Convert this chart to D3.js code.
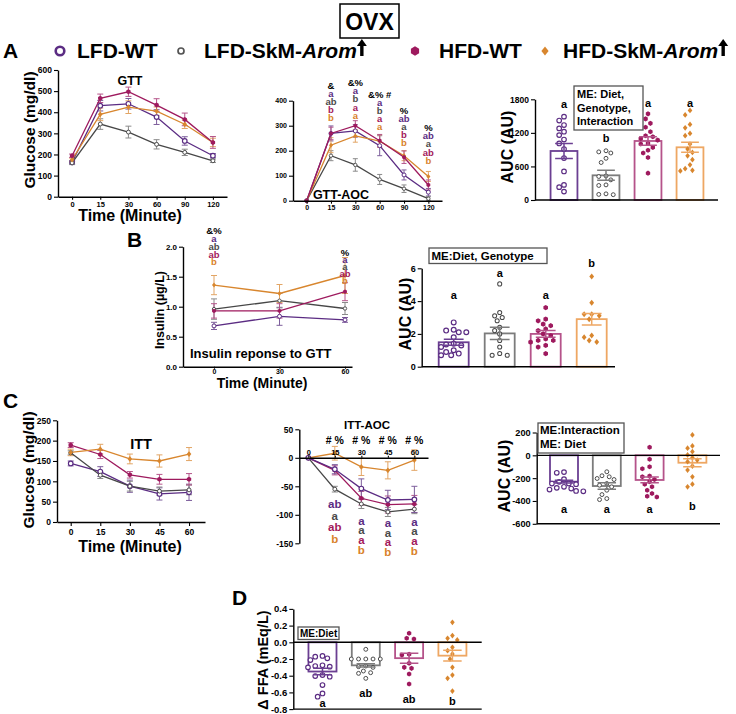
<!DOCTYPE html>
<html><head><meta charset="utf-8">
<script src="https://cdn.jsdelivr.net/npm/d3@7"></script>
<style>body{margin:0;background:#fff}svg{display:block}</style>
</head><body><svg id="c" width="736" height="714"></svg>
<script>
// ---------------- DATA ----------------
const groupKeys = ["lw","ls","hw","hs"];
const groupNames = ["LFD-WT","LFD-SkM-Arom","HFD-WT","HFD-SkM-Arom"];

// GTT (mg/dl)
const gttTimes = [0,15,30,60,90,120];
const gttLfdWt  = [163,431,440,377,264,194];
const gttLfdSkm = [160,344,306,248,210,170];
const gttHfdWt  = [194,466,497,434,366,257];
const gttHfdSkm = [175,390,424,405,343,257];
const gttSemLfdWt  = [8,25,25,35,20,10];
const gttSemLfdSkm = [8,25,28,22,15,8];
const gttSemHfdWt  = [8,20,22,30,30,28];
const gttSemHfdSkm = [8,30,30,20,20,20];
const gttTicks = [0,100,200,300,400,500,600];

// GTT-AOC
const aocLfdWt  = [0,269,279,220,103,34];
const aocLfdSkm = [0,180,143,85,48,8];
const aocHfdWt  = [0,269,300,240,174,63];
const aocHfdSkm = [0,222,259,238,180,97];
const aocSemLfdWt  = [0,30,25,40,20,15];
const aocSemLfdSkm = [0,20,25,20,15,8];
const aocSemHfdWt  = [0,25,20,25,25,20];
const aocSemHfdSkm = [0,30,25,25,20,20];
const aocTicks = [0,100,200,300,400];
const gttAocSym   = ["","&","&%","&% #","%","%"];
const gttAocLetLw = ["","a","a","a","ab","ab"];
const gttAocLetLs = ["","ab","b","b","a","a"];
const gttAocLetHw = ["","b","a","a","b","ab"];
const gttAocLetHs = ["","b","a","a","b","b"];

// GTT AUC
const aucGttMean = [876,441,1055,942];
const aucGttSem  = [135,90,75,90];
const aucGttLfdWt  = [1490,1420,1340,1280,1220,1160,1080,1010,910,750,510,270,230,150];
const aucGttLfdSkm = [880,860,840,745,670,430,420,360,270,260,110,100,95];
const aucGttHfdWt  = [1540,1450,1370,1300,1220,1150,1130,1100,1070,1010,1000,940,890,840,760,480];
const aucGttHfdSkm = [1600,1520,1350,1290,1190,1150,1000,910,850,790,720,630,560,530,520];
const aucGttLet = ["a","b","a","a"];
const aucGttTicks = [0,600,1200,1800];
const aucGttBox = ["ME: Diet,","Genotype,","Interaction"];

// Insulin
const insTimes = [0,30,60];
const insLfdWt  = [0.68,0.84,0.78];
const insLfdSkm = [0.96,1.10,0.97];
const insHfdWt  = [0.93,0.93,1.25];
const insHfdSkm = [1.36,1.22,1.52];
const insSemLfdWt  = [0.06,0.15,0.04];
const insSemLfdSkm = [0.17,0.12,0.10];
const insSemHfdWt  = [0.12,0.12,0.15];
const insSemHfdSkm = [0.16,0.15,0.30];
const insTicks = [0,0.5,1,1.5,2];
const insSym   = ["&%","","%"];
const insLetLw = ["a","","a"];
const insLetLs = ["ab","","a"];
const insLetHw = ["ab","","ab"];
const insLetHs = ["b","","b"];

// Insulin AUC
const insAucMean = [1.49,2.03,2.0,2.9];
const insAucSem  = [0.18,0.37,0.2,0.35];
const insAucLfdWt  = [2.7,2.25,2.2,2.1,2.1,1.8,1.4,1.35,1.3,1.2,1.0,0.9,0.8,0.7,0.7];
const insAucLfdSkm = [5.05,3.3,3.1,3.0,2.8,2.4,2.2,2.0,1.6,1.2,0.8,0.7,0.7];
const insAucHfdWt  = [3.6,2.9,2.8,2.6,2.5,2.3,2.2,2.0,1.9,1.7,1.6,1.6,1.5,1.3,1.2,0.8];
const insAucHfdSkm = [5.5,3.9,3.2,3.2,3.1,2.9,1.9,1.8,1.6,1.5];
const insAucLet = ["a","a","a","b"];
const insAucTicks = [0,2,4,6];
const insAucBox = ["ME:Diet, Genotype"];

// ITT (mg/dl)
const ittTimes = [0,15,30,45,60];
const ittLfdWt  = [144,124,88,69,73];
const ittLfdSkm = [170,115,88,76,79];
const ittHfdWt  = [189,166,116,105,105];
const ittHfdSkm = [171,179,155,150,167];
const ittSemLfdWt  = [6,12,15,15,20];
const ittSemLfdSkm = [5,8,12,10,12];
const ittSemHfdWt  = [6,10,8,12,14];
const ittSemHfdSkm = [8,12,12,15,16];
const ittTicks = [0,50,100,150,200,250];

// ITT-AOC
const itaLfdWt  = [0,-20,-54,-74,-73];
const itaLfdSkm = [0,-55,-81,-95,-90];
const itaHfdWt  = [0,-22,-71,-82,-81];
const itaHfdSkm = [0,8,-16,-22,-4];
const itaSemLfdWt  = [0,8,17,17,23];
const itaSemLfdSkm = [0,5,8,8,8];
const itaSemHfdWt  = [0,8,12,15,15];
const itaSemHfdSkm = [0,12,15,15,18];
const itaTicks = [50,0,-50,-100,-150];
const ittAocSym   = ["","# %","# %","# %","# %"];
const ittAocLetLw = ["","ab","a","a","a"];
const ittAocLetLs = ["","a","a","a","a"];
const ittAocLetHw = ["","ab","a","a","a"];
const ittAocLetHs = ["","b","b","b","b"];

// ITT AUC
const ittAucMean = [-231,-269,-216,-65];
const ittAucSem  = [12,28,25,35];
const ittAucLfdWt  = [-153,-147,-209,-232,-247,-253,-247,-276,-285,-291,-300,-312,-315];
const ittAucLfdSkm = [-144,-179,-188,-203,-212,-247,-262,-276,-306,-344,-379,-388];
const ittAucHfdWt  = [70,-35,-100,-118,-182,-188,-212,-232,-253,-276,-306,-335,-359,-365];
const ittAucHfdSkm = [179,82,62,32,3,-21,-41,-56,-94,-129,-188,-253,-276];
const ittAucLet = ["a","a","a","b"];
const ittAucTicks = [200,0,-200,-400,-600];
const ittAucBox = ["ME:Interaction","ME: Diet"];

// Delta FFA
const ffaMean = [-0.35,-0.276,-0.19,-0.16];
const ffaSem  = [0.04,0.02,0.06,0.065];
const ffaLfdWt  = [-0.164,-0.172,-0.192,-0.212,-0.276,-0.284,-0.292,-0.3,-0.392,-0.404,-0.412,-0.512,-0.612,-0.652];
const ffaLfdSkm = [-0.084,-0.2,-0.2,-0.2,-0.2,-0.2,-0.284,-0.292,-0.3,-0.344,-0.364,-0.372,-0.432];
const ffaHfdWt  = [0.108,0.048,0.04,-0.144,-0.152,-0.252,-0.3,-0.312,-0.38,-0.5];
const ffaHfdSkm = [0.24,0.08,0.048,0.028,-0.06,-0.1,-0.14,-0.2,-0.3,-0.392,-0.432,-0.584];
const ffaLet = ["a","ab","ab","b"];
const ffaTicks = [0.4,0.2,0,-0.2,-0.4,-0.6,-0.8];
const ffaBox = ["ME:Diet"];

// ---------------- STYLE ----------------
const F = '"Liberation Sans", Arial, Helvetica, sans-serif';
const lineColor  = {lw:"#5b2c83", ls:"#474747", hw:"#9e1a5e", hs:"#d8862e"};
const errColor   = {lw:"#7d5e9c", ls:"#8a8a8a", hw:"#b5558a", hs:"#e2a565"};
const barStroke  = {lw:"#6b3f92", ls:"#7c7c7c", hw:"#b5538a", hs:"#eea763"};
const letterColor= {lw:"#5b2c83", ls:"#4a4a4a", hw:"#a3195b", hs:"#d9822b"};

const svg = d3.select("#c").attr("font-family", F);

function txt(x,y,s,fs,opt={}){
  const t = svg.append("text").attr("x",x).attr("y",y).attr("font-size",fs)
    .attr("font-weight","bold").attr("fill",opt.fill||"#000")
    .attr("text-anchor",opt.anchor||"start").text(s);
  if(opt.rot) t.attr("transform",`rotate(-90,${x},${y})`);
  return t;
}
function axisStyle(g,fs){
  g.attr("font-family",F).attr("font-size",fs);
  g.select(".domain").attr("stroke","#000").attr("stroke-width",1.4);
  g.selectAll(".tick line").attr("stroke","#000").attr("stroke-width",1.1);
  g.selectAll(".tick text").attr("font-weight","bold").attr("fill","#000");
}
function yAxis(x,y,ticks,fmt,fs){
  const g = svg.append("g").attr("transform",`translate(${x},0)`)
    .call(d3.axisLeft(y).tickValues(ticks).tickFormat(fmt).tickSize(4).tickSizeOuter(0).tickPadding(2));
  axisStyle(g,fs); return g;
}
function xAxis(y,x,ticks,fs,top,ts,tp){
  const ax = (top?d3.axisTop(x):d3.axisBottom(x)).tickSize(ts).tickSizeOuter(0).tickPadding(tp);
  if(ticks) ax.tickValues(ticks);
  const g = svg.append("g").attr("transform",`translate(0,${y})`).call(ax);
  axisStyle(g,fs); return g;
}
function hline(x0,x1,y){
  svg.append("line").attr("x1",x0).attr("x2",x1).attr("y1",y).attr("y2",y).attr("stroke","#000").attr("stroke-width",1.4);
}
function marker(g,key,x,y,r){
  const col=lineColor[key];
  if(key==="lw") g.append("circle").attr("cx",x).attr("cy",y).attr("r",r).attr("fill","#fff").attr("stroke",col).attr("stroke-width",Math.max(1,r*0.5));
  else if(key==="ls") g.append("circle").attr("cx",x).attr("cy",y).attr("r",r*0.85).attr("fill","#fff").attr("stroke",col).attr("stroke-width",Math.max(0.9,r*0.42));
  else if(key==="hw"){
    const pts=d3.range(6).map(k=>{const a=Math.PI/3*k+Math.PI/6;return [x+r*1.1*Math.cos(a),y+r*1.1*Math.sin(a)];});
    g.append("polygon").attr("points",pts.join(" ")).attr("fill",col);
  } else {
    g.append("polygon").attr("points",[[x,y-r*1.25],[x+r,y],[x,y+r*1.25],[x-r,y]].join(" ")).attr("fill",col);
  }
}
function errBar(g,cx,y1,y2,cap,col,sw){
  g.append("path").attr("d",`M${cx},${y1}V${y2}M${cx-cap},${y1}h${2*cap}M${cx-cap},${y2}h${2*cap}`)
   .attr("stroke",col).attr("stroke-width",sw).attr("fill","none");
}
function linePanel(o){
  const g=svg.append("g");
  o.series.forEach(s=>{
    o.times.forEach((t,i)=>{
      const se=s.sem[i]; if(!se) return;
      errBar(g,o.x(t),o.y(s.vals[i]+se),o.y(s.vals[i]-se),o.cap,errColor[s.key],1);
    });
  });
  o.series.forEach(s=>{
    g.append("path").datum(s.vals).attr("d",d3.line().x((d,i)=>o.x(o.times[i])).y(d=>o.y(d)))
     .attr("stroke",lineColor[s.key]).attr("stroke-width",1.3).attr("fill","none");
  });
  o.series.forEach(s=>o.times.forEach((t,i)=>marker(g,s.key,o.x(t),o.y(s.vals[i]),o.r)));
}
function swarm(vals,y,cx,r){
  const placed=[], d=2*r+0.7, s=r*1.05;
  const idx=vals.map((v,i)=>i).sort((a,b)=>vals[b]-vals[a]);
  idx.forEach(i=>{
    const py=y(vals[i]); let px=cx;
    for(let j=0;j<20;j++){
      const off = j===0?0:(j%2? -1:1)*Math.ceil(j/2)*s;
      px=cx+off;
      if(placed.every(p=>Math.hypot(p.x-px,p.y-py)>=d)) break;
    }
    placed.push({x:px,y:py});
  });
  return placed;
}
function barPanel(o){
  const g=svg.append("g"), w=o.band.bandwidth();
  groupKeys.forEach((k,i)=>{
    const x=o.band(k), y0=o.y(0), ym=o.y(o.means[i]);
    g.append("rect").attr("x",x).attr("y",Math.min(y0,ym)).attr("width",w).attr("height",Math.abs(ym-y0))
     .attr("fill","#fff").attr("stroke",barStroke[k]).attr("stroke-width",1.8);
  });
  groupKeys.forEach((k,i)=>{
    const cx=o.band(k)+w/2;
    swarm(o.pts[i],o.y,cx,o.pr).forEach(p=>marker(g,k,p.x,p.y,o.pr));
  });
  groupKeys.forEach((k,i)=>{
    const cx=o.band(k)+w/2;
    errBar(g,cx,o.y(o.means[i]+o.sems[i]),o.y(o.means[i]-o.sems[i]),w*0.33,barStroke[k],1.5);
  });
  groupKeys.forEach((k,i)=>txt(o.band(k)+w/2,o.letY[i],o.letters[i],o.letFs,{anchor:"middle"}));
}
function box(x,y,w,h,lines,fs,lh,tx,ty){
  svg.append("rect").attr("x",x).attr("y",y).attr("width",w).attr("height",h)
    .attr("fill","#fff").attr("stroke","#555").attr("stroke-width",1.3);
  lines.forEach((l,i)=>txt(tx,ty+i*lh,l,fs));
}
function stack(x,y0,step,items,fs){
  items.forEach((it,i)=>{ if(it.t) txt(x,y0+i*step,it.t,fs,{anchor:"middle",fill:it.c}); });
}
function upArrow(x,yb,h,w,sw){
  svg.append("path").attr("d",`M${x},${yb}V${yb-h+w*0.6}`).attr("stroke","#000").attr("stroke-width",sw);
  svg.append("polygon").attr("points",[[x-w/2,yb-h+w*0.7],[x,yb-h],[x+w/2,yb-h+w*0.7]].join(" ")).attr("fill","#000");
}

// ---------------- TITLE & LEGEND ----------------
svg.append("rect").attr("x",340).attr("y",4).attr("width",59).attr("height",34).attr("fill","#fff").attr("stroke","#000").attr("stroke-width",1.5);
txt(369.5,30,"OVX",23,{anchor:"middle"});
txt(3,58,"A",21);
const legMx=[60,181,415,545], legTx=[77,204,439,563], legY=58, legC=51;
const legG=svg.append("g");
groupKeys.forEach((k,i)=>{
  if(k==="lw") legG.append("circle").attr("cx",legMx[i]).attr("cy",legC).attr("r",4.3).attr("fill","#fff").attr("stroke",lineColor.lw).attr("stroke-width",2.6);
  else if(k==="ls") legG.append("circle").attr("cx",legMx[i]).attr("cy",legC).attr("r",3).attr("fill","#fff").attr("stroke","#555").attr("stroke-width",1.7);
  else marker(legG,k,legMx[i],legC,k==="hw"?4.3:3.6);
  const name=groupNames[i];
  const t=svg.append("text").attr("x",legTx[i]).attr("y",legY).attr("font-size",21).attr("font-weight","bold");
  if(name.endsWith("-Arom")){
    t.append("tspan").text(name.slice(0,-4));
    t.append("tspan").attr("font-style","italic").text("Arom");
    const L=t.node().getComputedTextLength();
    upArrow(legTx[i]+L+5,legY-2,17,10,3.4);
  } else t.text(name);
});

// ---------------- PANEL A: GTT ----------------
const xGtt=d3.scalePoint().domain(gttTimes).range([58,227]).padding(0.5);
const yGtt=d3.scaleLinear().domain([0,600]).range([196.7,70]);
linePanel({x:xGtt,y:yGtt,times:gttTimes,r:2.3,cap:3,series:[
  {key:"lw",vals:gttLfdWt,sem:gttSemLfdWt},{key:"ls",vals:gttLfdSkm,sem:gttSemLfdSkm},
  {key:"hs",vals:gttHfdSkm,sem:gttSemHfdSkm},{key:"hw",vals:gttHfdWt,sem:gttSemHfdWt}]});
yAxis(58,yGtt,gttTicks,d=>d,8.5);
xAxis(196.7,xGtt,null,7.5,false,3,1.5);
txt(130,85,"GTT",12.5,{anchor:"middle"});
txt(130,221,"Time (Minute)",16,{anchor:"middle"});
txt(35,130,"Glucose (mg/dl)",15.5,{anchor:"middle",rot:true});

// ---------------- PANEL A: GTT-AOC ----------------
const xAoc=d3.scalePoint().domain(gttTimes).range([293,442]).padding(0.56);
const yAoc=d3.scaleLinear().domain([0,400]).range([200.7,100.7]);
linePanel({x:xAoc,y:yAoc,times:gttTimes,r:2,cap:2.5,series:[
  {key:"lw",vals:aocLfdWt,sem:aocSemLfdWt},{key:"ls",vals:aocLfdSkm,sem:aocSemLfdSkm},
  {key:"hs",vals:aocHfdSkm,sem:aocSemHfdSkm},{key:"hw",vals:aocHfdWt,sem:aocSemHfdWt}]});
yAxis(293,yAoc,aocTicks,d=>d,7);
xAxis(200.7,xAoc,null,7,false,3,1.5);
txt(341,199,"GTT-AOC",12.5,{anchor:"middle"});
const aocSymY=[0,88.5,86,97.5,113.5,131];
gttTimes.forEach((t,i)=>{
  if(!gttAocSym[i]) return;
  stack(xAoc(t),aocSymY[i],8.2,[{t:gttAocSym[i],c:"#000"},{t:gttAocLetLw[i],c:letterColor.lw},
    {t:gttAocLetLs[i],c:letterColor.ls},{t:gttAocLetHw[i],c:letterColor.hw},{t:gttAocLetHs[i],c:letterColor.hs}],9.5);
});

// ---------------- PANEL A: AUC ----------------
const bandA=d3.scaleBand().domain(groupKeys).range([543,711]).paddingInner(0.36).paddingOuter(0.18);
const yAucA=d3.scaleLinear().domain([0,1800]).range([200,99.3]);
barPanel({band:bandA,y:yAucA,means:aucGttMean,sems:aucGttSem,pr:2.3,
  pts:[aucGttLfdWt,aucGttLfdSkm,aucGttHfdWt,aucGttHfdSkm],letters:aucGttLet,letY:[108,141.7,107,107],letFs:11});
yAxis(535,yAucA,aucGttTicks,d=>d,8.5);
hline(535,718,200);
txt(513,147,"AUC (AU)",16,{anchor:"middle",rot:true});
box(574,86,69,44,aucGttBox,11,13.5,577,98);

// ---------------- PANEL B: Insulin ----------------
txt(127,247,"B",21);
const xIns=d3.scaleLinear().domain([-14.2,63.2]).range([183,352]);
const yIns=d3.scaleLinear().domain([0,2]).range([366.7,246.7]);
linePanel({x:xIns,y:yIns,times:insTimes,r:2,cap:3,series:[
  {key:"lw",vals:insLfdWt,sem:insSemLfdWt},{key:"ls",vals:insLfdSkm,sem:insSemLfdSkm},
  {key:"hw",vals:insHfdWt,sem:insSemHfdWt},{key:"hs",vals:insHfdSkm,sem:insSemHfdSkm}]});
yAxis(183,yIns,insTicks,d=>d.toFixed(1),8);
xAxis(366.7,xIns,insTimes,7,false,2,0.5);
txt(190,358,"Insulin reponse to GTT",13);
txt(262,388,"Time (Minute)",14,{anchor:"middle"});
txt(164,310,"Insulin (\u00b5g/L)",12.5,{anchor:"middle",rot:true});
const insY=[234.2,255.5], insStep=[7.8,7.1];
[0,2].forEach((i,j)=>{
  stack(xIns(insTimes[i]),insY[j],insStep[j],[{t:insSym[i],c:"#000"},{t:insLetLw[i],c:letterColor.lw},
    {t:insLetLs[i],c:letterColor.ls},{t:insLetHw[i],c:letterColor.hw},{t:insLetHs[i],c:letterColor.hs}],9.5);
});

// ---------------- PANEL B: AUC ----------------
const bandB=d3.scaleBand().domain(groupKeys).range([430.7,614.7]).paddingInner(0.348).paddingOuter(0.174);
const yAucB=d3.scaleLinear().domain([0,6]).range([366.7,268.3]);
barPanel({band:bandB,y:yAucB,means:insAucMean,sems:insAucSem,pr:2.4,
  pts:[insAucLfdWt,insAucLfdSkm,insAucHfdWt,insAucHfdSkm],letters:insAucLet,letY:[299,277,299,266.7],letFs:11});
yAxis(421.7,yAucB,insAucTicks,d=>d,9);
hline(421.7,615,366.7);
txt(411,314,"AUC (AU)",16,{anchor:"middle",rot:true});
box(429,248,118,15.5,insAucBox,11.5,0,431.5,260.2);

// ---------------- PANEL C: ITT ----------------
txt(3,408,"C",21);
const xItt=d3.scaleLinear().domain([-6.95,68.1]).range([57,205]);
const yItt=d3.scaleLinear().domain([0,250]).range([522,420.3]);
linePanel({x:xItt,y:yItt,times:ittTimes,r:2.3,cap:3,series:[
  {key:"lw",vals:ittLfdWt,sem:ittSemLfdWt},{key:"ls",vals:ittLfdSkm,sem:ittSemLfdSkm},
  {key:"hw",vals:ittHfdWt,sem:ittSemHfdWt},{key:"hs",vals:ittHfdSkm,sem:ittSemHfdSkm}]});
yAxis(57,yItt,ittTicks,d=>d,8.5);
xAxis(522,xItt,ittTimes,8.5,false,4,2.5);
txt(141,449,"ITT",14.5,{anchor:"middle"});
txt(130,552,"Time (Minute)",16,{anchor:"middle"});
txt(34,470,"Glucose (mg/dl)",15.5,{anchor:"middle",rot:true});

// ---------------- PANEL C: ITT-AOC ----------------
const xIta=d3.scaleLinear().domain([-5.09,67.7]).range([299.3,428]);
const yIta=d3.scaleLinear().domain([-150,50]).range([543.3,429.3]);
linePanel({x:xIta,y:yIta,times:ittTimes,r:2.3,cap:3,series:[
  {key:"hs",vals:itaHfdSkm,sem:itaSemHfdSkm},{key:"ls",vals:itaLfdSkm,sem:itaSemLfdSkm},
  {key:"hw",vals:itaHfdWt,sem:itaSemHfdWt},{key:"lw",vals:itaLfdWt,sem:itaSemLfdWt}]});
yAxis(299.3,yIta,itaTicks,d=>String(d),8.5);
xAxis(yIta(0),xIta,ittTimes,7.5,true,2,1);
txt(367,429,"ITT-AOC",11.5,{anchor:"middle"});
const itaLetY=[0,508,524.7,527,525.7], itaStep=[0,11.5,9.6,9.6,9.6];
ittTimes.forEach((t,i)=>{
  if(!ittAocSym[i]) return;
  txt(xIta(t),444,ittAocSym[i],10.5,{anchor:"middle"});
  stack(xIta(t),itaLetY[i],itaStep[i],[{t:ittAocLetLw[i],c:letterColor.lw},{t:ittAocLetLs[i],c:letterColor.ls},
    {t:ittAocLetHw[i],c:letterColor.hw},{t:ittAocLetHs[i],c:letterColor.hs}],11.5);
});

// ---------------- PANEL C: AUC ----------------
const bandC=d3.scaleBand().domain(groupKeys).range([542.6,713.8]).paddingInner(0.346).paddingOuter(0.173);
const yAucC=d3.scaleLinear().domain([-600,200]).range([523.8,432.5]);
barPanel({band:bandC,y:yAucC,means:ittAucMean,sems:ittAucSem,pr:2.3,
  pts:[ittAucLfdWt,ittAucLfdSkm,ittAucHfdWt,ittAucHfdSkm],letters:ittAucLet,letY:[513,513,513,510],letFs:11});
yAxis(536.7,yAucC,ittAucTicks,d=>String(d),9.2);
hline(536.7,720,yAucC(0));
hline(536.7,720,yAucC(-600));
txt(510,476,"AUC (AU)",16,{anchor:"middle",rot:true});
box(538,423,86,30,ittAucBox,11.5,14,540,434);

// ---------------- PANEL D: FFA ----------------
txt(232,605,"D",21);
const bandD=d3.scaleBand().domain(groupKeys).range([300.85,474.05]).paddingInner(0.353).paddingOuter(0.176);
const yFfa=d3.scaleLinear().domain([-0.8,0.4]).range([709.1,608.9]);
barPanel({band:bandD,y:yFfa,means:ffaMean,sems:ffaSem,pr:2.3,
  pts:[ffaLfdWt,ffaLfdSkm,ffaHfdWt,ffaHfdSkm],letters:ffaLet,letY:[706.5,696.5,702.5,705],letFs:11});
yAxis(293.3,yFfa,ffaTicks,d=>d.toFixed(1),9.5);
hline(293.3,481.7,yFfa(0));
hline(293.3,481.7,yFfa(-0.8));
txt(268,660,"\u0394 FFA (mEq/L)",14.5,{anchor:"middle",rot:true});
box(298,627,41,12.5,ffaBox,10,0,300,637.3);
</script></body></html>
